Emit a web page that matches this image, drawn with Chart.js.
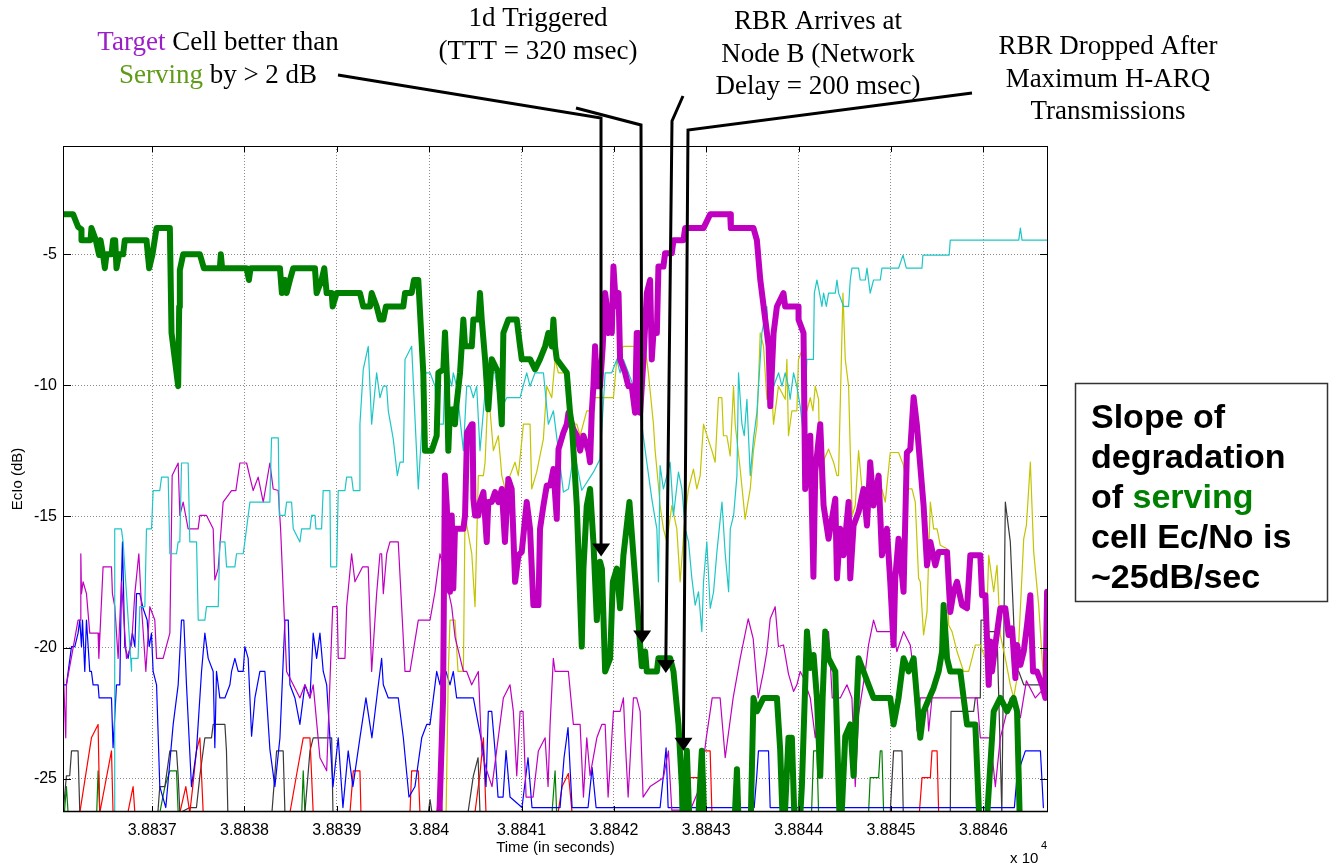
<!DOCTYPE html>
<html>
<head>
<meta charset="utf-8">
<script src="https://cdn.jsdelivr.net/npm/chart.js@4.4.0/dist/chart.umd.min.js"></script>
<style>
  html, body { margin: 0; padding: 0; background: #fff; }
  #wrap { position: relative; width: 1341px; height: 867px; }
</style>
</head>
<body>
<div id="wrap"><canvas id="c" width="1341" height="867"></canvas></div>
<script>
// time axis is in seconds, stored as offset from T0 (axis labels show (T0+t)/1e4, "x 10^4")
const T0 = 38836;
const xTicks = [1, 2, 3, 4, 5, 6, 7, 8, 9, 10];
const yTicks = [-25, -20, -15, -10, -5];

// ── serving cell (thick green) ──
const servingCell = [[0.036,-3.47],[0.144,-3.47],[0.198,-3.95],[0.235,-4.05],[0.235,-4.46],[0.333,-4.46],[0.343,-4.0],[0.39,-4.46],[0.426,-5.03],[0.441,-4.46],[0.469,-5.03],[0.488,-5.53],[0.506,-5.0],[0.56,-5.0],[0.577,-4.46],[0.6,-4.46],[0.614,-5.53],[0.642,-5.0],[0.686,-5.0],[0.704,-4.46],[0.939,-4.46],[0.968,-5.53],[1.004,-5.0],[1.048,-4.0],[1.192,-4.0],[1.21,-8.0],[1.282,-10.03],[1.293,-7.0],[1.30,-5.6],[1.336,-5.0],[1.517,-5.0],[1.56,-5.53],[1.733,-5.53],[1.744,-5.0],[1.758,-5.53],[2.023,-5.53],[2.048,-5.98],[2.066,-5.53],[2.384,-5.53],[2.405,-6.48],[2.438,-5.98],[2.456,-6.48],[2.492,-5.98],[2.528,-5.53],[2.763,-5.53],[2.781,-6.48],[2.835,-5.98],[2.864,-5.53],[2.89,-6.48],[2.944,-6.48],[2.955,-6.99],[2.998,-6.48],[3.25,-6.48],[3.286,-6.99],[3.359,-6.99],[3.377,-6.48],[3.431,-6.99],[3.467,-7.49],[3.503,-7.49],[3.532,-6.99],[3.72,-6.99],[3.738,-6.48],[3.81,-6.48],[3.835,-5.98],[3.882,-5.98],[3.936,-9.52],[3.954,-12.49],[4.027,-12.49],[4.081,-11.92],[4.099,-9.52],[4.153,-9.39],[4.171,-7.98],[4.19,-9.52],[4.207,-12.49],[4.225,-10.91],[4.244,-11.17],[4.261,-10.91],[4.279,-11.48],[4.29,-10.91],[4.334,-9.52],[4.37,-7.49],[4.388,-8.51],[4.461,-8.51],[4.478,-7.49],[4.532,-7.49],[4.55,-6.48],[4.569,-7.49],[4.605,-9.0],[4.64,-10.91],[4.677,-9.0],[4.749,-9.52],[4.786,-11.48],[4.803,-8.0],[4.857,-7.49],[4.948,-7.49],[4.984,-8.51],[5.002,-9.0],[5.092,-9.0],[5.146,-9.39],[5.2,-9.0],[5.255,-8.51],[5.29,-8.0],[5.327,-8.51],[5.345,-7.49],[5.363,-8.51],[5.381,-9.0],[5.49,-9.52],[5.525,-11.04],[5.544,-11.48],[5.561,-12.43],[5.598,-14.58],[5.652,-19.96],[5.67,-16.99],[5.706,-14.58],[5.742,-13.95],[5.778,-15.97],[5.815,-18.95],[5.85,-16.73],[5.87,-16.99],[5.905,-20.91],[5.959,-20.41],[5.988,-17.49],[6.031,-16.99],[6.067,-18.5],[6.103,-16.48],[6.168,-14.45],[6.211,-16.48],[6.284,-19.9],[6.302,-20.71],[6.338,-20.15],[6.356,-20.91],[6.465,-20.91],[6.482,-20.41],[6.609,-20.41],[6.645,-20.91],[6.699,-22.93],[6.736,-25.3],[6.75,-27.5],[6.79,-23.93],[6.826,-27.5],[6.898,-27.5],[6.952,-23.93],[6.988,-27.5],[7.295,-27.5],[7.332,-24.64],[7.357,-27.5],[7.476,-27.5],[7.511,-21.92],[7.548,-22.43],[7.62,-21.92],[7.765,-21.92],[7.8,-23.88],[7.836,-27.5],[7.89,-23.44],[7.927,-23.44],[7.963,-27.5],[8.0,-27.5],[8.035,-25.3],[8.09,-19.39],[8.126,-20.78],[8.162,-20.28],[8.198,-21.92],[8.234,-24.89],[8.26,-21.92],[8.288,-19.39],[8.324,-20.41],[8.397,-20.91],[8.451,-27.5],[8.505,-23.38],[8.559,-22.93],[8.595,-24.89],[8.649,-20.41],[8.703,-20.91],[8.757,-21.42],[8.811,-21.92],[8.992,-21.92],[9.028,-22.93],[9.082,-21.92],[9.136,-20.41],[9.191,-20.91],[9.245,-20.41],[9.317,-23.44],[9.353,-22.43],[9.461,-21.54],[9.516,-20.91],[9.553,-20.15],[9.57,-18.38],[9.607,-20.41],[9.642,-20.91],[9.75,-20.91],[9.823,-22.93],[9.913,-22.93],[9.967,-27.5],[10.022,-27.5],[10.112,-22.43],[10.184,-21.92],[10.257,-22.43],[10.328,-21.92],[10.365,-22.43],[10.401,-27.5]];

// ── target cell (thick magenta) ──
const targetCell = [[4.10,-27.5],[4.15,-22.0],[4.17,-13.44],[4.19,-14.58],[4.225,-17.87],[4.244,-14.96],[4.261,-17.74],[4.279,-15.47],[4.37,-15.47],[4.388,-14.96],[4.41,-11.8],[4.461,-11.48],[4.47,-11.48],[4.478,-14.32],[4.497,-14.96],[4.532,-14.96],[4.55,-14.45],[4.587,-14.07],[4.623,-15.97],[4.64,-14.45],[4.677,-14.45],[4.713,-14.07],[4.749,-14.45],[4.786,-13.95],[4.82,-15.97],[4.857,-13.57],[4.893,-13.95],[4.93,-17.49],[4.966,-16.48],[5.002,-16.35],[5.02,-15.72],[5.056,-14.45],[5.092,-15.47],[5.128,-18.38],[5.183,-18.38],[5.2,-15.47],[5.237,-14.58],[5.273,-13.82],[5.31,-13.82],[5.345,-13.19],[5.381,-15.09],[5.40,-12.43],[5.453,-11.8],[5.49,-11.48],[5.508,-11.04],[5.561,-11.67],[5.598,-11.92],[5.634,-12.49],[5.67,-11.92],[5.724,-12.49],[5.742,-12.93],[5.76,-11.04],[5.778,-10.03],[5.796,-8.51],[5.815,-10.03],[5.85,-10.03],[5.879,-8.51],[5.905,-6.48],[5.923,-6.99],[5.941,-8.0],[5.959,-7.49],[5.977,-8.0],[5.995,-5.47],[6.013,-6.48],[6.031,-6.99],[6.05,-6.48],[6.067,-9.01],[6.121,-9.52],[6.157,-10.03],[6.193,-10.03],[6.229,-11.04],[6.247,-8.0],[6.265,-8.0],[6.284,-11.04],[6.32,-9.01],[6.356,-6.48],[6.392,-5.98],[6.41,-9.01],[6.428,-8.0],[6.465,-8.0],[6.482,-5.47],[6.536,-5.47],[6.554,-4.96],[6.627,-4.96],[6.645,-4.46],[6.753,-4.46],[6.771,-4.0],[6.97,-4.0],[7.043,-3.47],[7.259,-3.47],[7.266,-4.0],[7.511,-4.0],[7.548,-4.46],[7.585,-5.98],[7.675,-8.51],[7.693,-10.79],[7.729,-8.0],[7.765,-6.99],[7.836,-6.48],[7.854,-6.99],[7.999,-6.99],[7.999,-7.49],[8.053,-8.0],[8.071,-13.95],[8.126,-11.92],[8.16,-17.3],[8.18,-13.3],[8.234,-11.48],[8.27,-14.58],[8.324,-15.85],[8.397,-14.32],[8.415,-17.36],[8.451,-15.47],[8.487,-16.48],[8.541,-14.45],[8.559,-17.36],[8.595,-15.34],[8.649,-14.83],[8.703,-13.95],[8.74,-15.34],[8.775,-12.93],[8.811,-14.58],[8.866,-13.44],[8.902,-16.48],[8.956,-15.47],[8.992,-17.49],[9.028,-19.9],[9.046,-17.36],[9.082,-15.85],[9.136,-17.87],[9.172,-12.56],[9.209,-12.43],[9.245,-10.45],[9.28,-11.5],[9.353,-14.58],[9.39,-16.86],[9.426,-15.97],[9.48,-16.86],[9.516,-16.35],[9.607,-16.35],[9.642,-18.64],[9.678,-17.87],[9.715,-17.49],[9.769,-18.38],[9.823,-18.5],[9.859,-16.48],[9.967,-16.48],[9.986,-18.0],[10.022,-18.0],[10.058,-21.42],[10.076,-19.77],[10.094,-20.91],[10.13,-19.9],[10.184,-18.5],[10.238,-18.5],[10.274,-19.52],[10.311,-19.27],[10.347,-21.16],[10.365,-19.9],[10.401,-20.66],[10.437,-20.15],[10.473,-19.14],[10.509,-18.0],[10.538,-20.91],[10.581,-20.91],[10.636,-21.42],[10.672,-21.92],[10.69,-17.87]];

// ── neighbour cells (thin) ──
const cyanCell = [[0.59,-27.5],[0.595,-15.47],[0.667,-15.47],[0.686,-15.97],[0.777,-20.9],[0.777,-20.41],[0.848,-20.41],[0.867,-18.44],[0.921,-18.44],[0.939,-15.47],[0.994,-15.47],[1.011,-14.01],[1.083,-14.01],[1.102,-13.5],[1.174,-13.5],[1.192,-16.42],[1.264,-16.42],[1.282,-15.97],[1.30,-15.97],[1.318,-12.96],[1.39,-12.96],[1.408,-15.97],[1.481,-15.97],[1.499,-18.95],[1.571,-18.95],[1.589,-18.44],[1.716,-18.44],[1.733,-15.97],[1.788,-15.97],[1.806,-16.92],[1.896,-16.92],[1.914,-16.42],[1.986,-16.42],[2.004,-15.97],[2.059,-14.45],[2.275,-14.45],[2.293,-12.0],[2.366,-12.0],[2.377,-14.96],[2.438,-14.96],[2.456,-14.45],[2.51,-14.45],[2.528,-15.47],[2.6,-15.97],[2.619,-15.47],[2.709,-15.47],[2.727,-14.96],[2.763,-14.96],[2.774,-15.47],[2.835,-15.47],[2.852,-14.01],[2.925,-14.01],[2.933,-16.92],[2.998,-16.92],[3.015,-14.01],[3.088,-14.01],[3.106,-13.5],[3.16,-13.5],[3.178,-14.01],[3.25,-14.01],[3.25,-11.48],[3.286,-9.39],[3.34,-8.51],[3.377,-11.48],[3.431,-9.52],[3.467,-10.47],[3.503,-10.03],[3.539,-10.03],[3.557,-10.97],[3.611,-12.05],[3.655,-13.44],[3.684,-12.93],[3.72,-12.93],[3.738,-9.01],[3.81,-8.51],[3.882,-13.95],[3.954,-9.52],[4.009,-9.52],[4.063,-10.03],[4.081,-11.48],[4.153,-11.48],[4.171,-9.52],[4.207,-9.52],[4.244,-10.03],[4.261,-9.52],[4.297,-10.03],[4.37,-12.49],[4.406,-10.03],[4.442,-10.03],[4.478,-10.47],[4.514,-10.03],[4.55,-12.49],[4.623,-9.52],[4.713,-9.52],[4.767,-10.97],[4.84,-10.47],[4.984,-10.47],[5.056,-9.52],[5.092,-10.03],[5.146,-9.52],[5.237,-9.52],[5.29,-11.48],[5.345,-10.97],[5.399,-12.49],[5.453,-14.07],[5.508,-13.95],[5.57,-12.5],[5.652,-14.0],[5.778,-13.31],[5.85,-12.81],[5.905,-9.52],[5.977,-9.52],[6.031,-9.01],[6.067,-9.52],[6.103,-9.01],[6.157,-9.52],[6.211,-10.03],[6.284,-11.04],[6.356,-12.93],[6.41,-14.32],[6.428,-14.71],[6.465,-15.47],[6.482,-17.49],[6.5,-13.06],[6.536,-13.95],[6.573,-13.44],[6.609,-12.93],[6.645,-14.96],[6.699,-13.31],[6.736,-13.95],[6.772,-15.47],[6.808,-15.97],[6.844,-17.36],[6.88,-18.38],[6.916,-17.87],[6.952,-19.39],[6.97,-17.49],[7.006,-15.97],[7.043,-18.5],[7.079,-17.87],[7.115,-16.35],[7.17,-14.45],[7.205,-16.42],[7.242,-17.87],[7.26,-15.47],[7.296,-14.96],[7.332,-13.44],[7.349,-9.52],[7.386,-11.48],[7.411,-11.92],[7.44,-10.53],[7.476,-13.44],[7.511,-12.05],[7.548,-11.04],[7.602,-8.0],[7.656,-6.99],[7.675,-8.51],[7.71,-9.52],[7.729,-10.03],[7.783,-9.52],[7.82,-10.03],[7.854,-9.52],[7.89,-10.03],[7.908,-10.53],[7.945,-9.52],[7.98,-10.03],[8.017,-10.79],[8.053,-11.92],[8.09,-9.01],[8.16,-9.01],[8.17,-6.48],[8.198,-5.98],[8.226,-6.48],[8.252,-6.99],[8.27,-6.48],[8.3,-6.99],[8.324,-6.48],[8.397,-6.48],[8.415,-5.98],[8.433,-6.48],[8.487,-6.99],[8.541,-6.99],[8.559,-5.98],[8.577,-5.53],[8.649,-5.53],[8.667,-5.98],[8.722,-5.98],[8.74,-5.53],[8.775,-6.48],[8.811,-5.98],[8.884,-5.98],[8.902,-5.53],[9.082,-5.53],[9.13,-5.03],[9.166,-5.53],[9.335,-5.53],[9.346,-5.03],[9.63,-5.03],[9.642,-4.46],[10.383,-4.46],[10.401,-4.0],[10.419,-4.46],[10.70,-4.46]];

const magentaCell = [[0.036,-20.66],[0.065,-23.44],[0.072,-21.42],[0.144,-20.02],[0.198,-18.95],[0.224,-18.95],[0.228,-16.42],[0.235,-17.94],[0.252,-17.49],[0.289,-17.94],[0.325,-19.45],[0.415,-19.45],[0.423,-20.41],[0.469,-16.92],[0.56,-16.92],[0.57,-17.94],[0.596,-18.44],[0.632,-20.41],[0.668,-17.49],[0.722,-20.41],[0.777,-19.9],[0.813,-17.94],[0.856,-16.42],[0.885,-18.44],[0.932,-20.91],[0.975,-18.44],[1.029,-18.95],[1.048,-20.41],[1.119,-20.41],[1.192,-19.45],[1.217,-13.44],[1.282,-12.96],[1.30,-14.96],[1.336,-14.45],[1.39,-15.47],[1.498,-15.47],[1.517,-14.96],[1.589,-14.96],[1.661,-15.47],[1.679,-17.42],[1.715,-16.99],[1.769,-14.45],[1.86,-14.01],[1.907,-14.01],[1.95,-12.96],[2.023,-12.96],[2.059,-13.5],[2.094,-14.01],[2.148,-13.5],[2.203,-14.45],[2.275,-12.96],[2.311,-13.95],[2.365,-14.01],[2.391,-15.47],[2.456,-20.91],[2.528,-21.42],[2.6,-21.92],[2.654,-21.42],[2.709,-21.92],[2.744,-21.42],[2.817,-24.2],[2.89,-24.7],[2.955,-18.44],[3.004,-18.44],[3.015,-20.41],[3.088,-20.41],[3.106,-18.44],[3.16,-16.42],[3.196,-17.49],[3.279,-16.92],[3.34,-16.92],[3.377,-20.91],[3.431,-17.94],[3.467,-16.42],[3.485,-16.42],[3.503,-17.94],[3.54,-16.42],[3.575,-15.97],[3.665,-15.97],[3.738,-20.91],[3.792,-20.91],[3.882,-18.95],[4.009,-18.95],[4.063,-17.87],[4.117,-16.42],[4.18,-17.4],[4.244,-18.44],[4.28,-19.6],[4.37,-20.91],[4.406,-20.91],[4.46,-21.42],[4.532,-20.91],[4.569,-23.94],[4.615,-24.6],[4.68,-25.3],[4.803,-21.92],[4.875,-21.42],[4.911,-22.43],[4.948,-24.89],[4.984,-22.43],[5.016,-22.43],[5.049,-25.7],[5.125,-25.7],[5.182,-23.94],[5.255,-23.44],[5.287,-25.3],[5.309,-22.93],[5.344,-20.41],[5.363,-20.91],[5.507,-20.91],[5.561,-22.93],[5.634,-22.93],[5.67,-25.7],[5.706,-23.44],[5.742,-24.88],[5.815,-23.44],[5.869,-22.93],[5.905,-22.93],[5.937,-25.7],[5.995,-22.43],[6.067,-22.43],[6.103,-21.92],[6.121,-23.44],[6.154,-25.7],[6.211,-21.92],[6.247,-21.92],[6.284,-22.43],[6.316,-25.7],[6.392,-25.3],[6.536,-24.96],[6.59,-23.94],[6.627,-26.2],[6.826,-26.2],[6.934,-25.3],[7.0,-23.44],[7.064,-21.92],[7.15,-21.92],[7.205,-24.2],[7.291,-21.92],[7.367,-20.41],[7.454,-18.9],[7.508,-19.66],[7.562,-21.92],[7.62,-20.91],[7.656,-20.15],[7.692,-18.9],[7.746,-18.44],[7.782,-19.96],[7.836,-19.9],[7.89,-21.0],[7.945,-21.67],[7.981,-21.42],[8.017,-20.91],[8.053,-21.16],[8.126,-21.92],[8.18,-23.44],[8.234,-21.92],[8.324,-19.39],[8.364,-21.92],[8.451,-21.92],[8.523,-21.42],[8.577,-21.92],[8.613,-25.3],[8.649,-22.55],[8.722,-20.91],[8.757,-19.9],[8.811,-18.95],[8.848,-19.39],[9.028,-19.39],[9.064,-20.15],[9.136,-19.39],[9.209,-19.9],[9.245,-20.91],[9.282,-23.18],[9.317,-21.92],[9.39,-21.92],[9.408,-23.18],[9.444,-21.92],[9.932,-21.92],[9.967,-23.44],[10.076,-23.44],[10.13,-25.3],[10.184,-23.44],[10.292,-21.92],[10.401,-22.67],[10.466,-21.27],[10.563,-21.92],[10.69,-21.42]];

const blueCell = [[0.036,-21.42],[0.072,-21.42],[0.127,-19.96],[0.163,-19.96],[0.198,-19.45],[0.217,-18.95],[0.235,-19.96],[0.246,-18.95],[0.271,-20.91],[0.289,-18.95],[0.325,-20.91],[0.343,-20.91],[0.361,-21.42],[0.415,-21.42],[0.426,-21.92],[0.56,-21.92],[0.577,-23.82],[0.614,-21.42],[0.65,-21.42],[0.668,-17.49],[0.679,-15.97],[0.704,-19.96],[0.74,-20.41],[0.787,-19.45],[0.813,-19.96],[0.831,-17.94],[0.867,-17.94],[0.902,-18.5],[0.946,-18.95],[0.968,-19.96],[0.993,-19.45],[1.011,-20.91],[1.048,-21.42],[1.083,-25.3],[1.148,-26.1],[1.228,-22.93],[1.282,-21.42],[1.318,-18.95],[1.343,-18.95],[1.372,-21.42],[1.426,-25.3],[1.48,-23.94],[1.535,-20.91],[1.571,-19.45],[1.607,-20.41],[1.661,-20.91],[1.679,-23.82],[1.697,-20.91],[1.733,-21.92],[1.788,-21.92],[1.842,-21.42],[1.86,-20.91],[1.896,-20.41],[1.932,-20.91],[1.986,-20.91],[2.004,-19.96],[2.04,-20.41],[2.077,-23.38],[2.113,-21.92],[2.167,-20.91],[2.221,-20.91],[2.275,-23.88],[2.329,-25.3],[2.384,-23.44],[2.438,-18.95],[2.474,-18.95],[2.492,-21.42],[2.546,-21.92],[2.6,-22.93],[2.654,-21.42],[2.709,-21.92],[2.744,-19.45],[2.781,-20.41],[2.817,-19.45],[2.853,-20.91],[2.89,-21.42],[2.925,-23.44],[2.958,-25.3],[3.015,-23.44],[3.066,-26.1],[3.123,-23.94],[3.174,-25.3],[3.25,-23.44],[3.315,-21.92],[3.38,-23.44],[3.445,-21.54],[3.485,-20.41],[3.503,-21.42],[3.557,-21.92],[3.665,-21.92],[3.72,-23.44],[3.781,-25.7],[3.846,-25.3],[3.919,-23.44],[3.973,-22.93],[4.009,-22.93],[4.063,-21.42],[4.081,-20.91],[4.117,-21.42],[4.135,-20.91],[4.182,-20.91],[4.225,-21.42],[4.261,-20.91],[4.297,-21.92],[4.478,-21.92],[4.532,-22.93],[4.587,-23.94],[4.615,-25.3],[4.64,-22.43],[4.677,-22.43],[4.713,-23.94],[4.745,-25.7],[4.8,-25.7],[4.832,-23.93],[4.875,-25.7],[5.005,-26.1],[5.07,-24.2],[5.113,-26.1],[5.417,-26.1],[5.46,-24.2],[5.503,-23.05],[5.547,-26.1],[5.72,-26.1],[5.764,-24.58],[5.807,-26.1],[6.5,-26.1],[6.544,-24.58],[6.565,-23.82],[6.587,-26.1],[7.519,-26.1],[7.548,-24.83],[7.565,-23.94],[7.674,-23.94],[7.692,-26.1],[10.336,-26.1],[10.365,-24.88],[10.455,-23.94],[10.618,-23.94],[10.65,-26.1]];

const yellowCell = [[4.18,-27.0],[4.207,-20.91],[4.225,-18.95],[4.279,-18.95],[4.312,-20.91],[4.37,-20.91],[4.388,-14.96],[4.461,-16.42],[4.496,-18.44],[4.532,-13.44],[4.587,-13.44],[4.605,-12.93],[4.64,-10.03],[4.659,-10.97],[4.695,-12.49],[4.749,-11.92],[4.786,-13.44],[4.822,-13.95],[4.875,-13.44],[4.929,-12.93],[4.965,-13.44],[5.02,-11.48],[5.092,-11.48],[5.11,-13.95],[5.164,-13.31],[5.236,-12.05],[5.273,-10.03],[5.327,-10.47],[5.363,-9.01],[5.399,-9.52],[5.49,-9.52],[5.507,-10.97],[5.544,-10.97],[5.561,-11.48],[5.598,-11.48],[5.634,-11.92],[5.706,-10.97],[5.742,-10.97],[5.778,-10.47],[5.995,-10.47],[6.031,-9.01],[6.103,-8.51],[6.338,-8.51],[6.373,-9.52],[6.428,-11.48],[6.446,-12.49],[6.482,-13.82],[6.5,-14.58],[6.536,-15.47],[6.573,-15.97],[6.627,-14.58],[6.681,-15.47],[6.717,-17.49],[6.771,-14.96],[6.807,-13.95],[6.861,-13.19],[6.898,-13.95],[6.934,-13.44],[6.97,-11.48],[7.02,-12.05],[7.061,-12.49],[7.096,-12.93],[7.132,-10.47],[7.169,-10.47],[7.186,-11.92],[7.223,-11.92],[7.259,-12.69],[7.295,-10.03],[7.313,-11.48],[7.367,-13.19],[7.421,-15.1],[7.476,-13.95],[7.511,-12.49],[7.548,-11.55],[7.584,-8.0],[7.62,-8.51],[7.656,-10.53],[7.692,-9.01],[7.728,-11.48],[7.782,-10.03],[7.855,-10.53],[7.873,-9.01],[7.89,-11.92],[7.927,-10.97],[7.981,-10.97],[7.998,-9.01],[8.053,-8.51],[8.09,-10.97],[8.126,-10.47],[8.155,-10.97],[8.18,-10.03],[8.216,-10.53],[8.234,-13.95],[8.277,-12.82],[8.324,-12.43],[8.378,-12.93],[8.415,-13.44],[8.432,-13.44],[8.48,-6.48],[8.505,-9.01],[8.541,-10.03],[8.559,-12.49],[8.581,-14.96],[8.613,-14.58],[8.649,-12.49],[8.686,-13.95],[8.722,-14.83],[8.757,-13.7],[8.794,-14.45],[8.83,-13.95],[8.866,-14.45],[8.902,-13.95],[8.938,-14.45],[8.956,-13.82],[8.992,-12.56],[9.082,-12.56],[9.136,-13.06],[9.173,-13.95],[9.227,-13.95],[9.263,-14.45],[9.299,-17.36],[9.317,-17.49],[9.353,-19.52],[9.39,-18.64],[9.426,-14.45],[9.462,-15.47],[9.499,-15.47],[9.534,-16.1],[9.607,-16.23],[9.624,-19.14],[9.661,-19.39],[9.715,-20.15],[9.786,-20.91],[9.841,-20.91],[9.877,-20.41],[9.913,-19.9],[9.967,-19.9],[10.022,-20.41],[10.058,-16.48],[10.112,-17.87],[10.148,-16.86],[10.184,-19.52],[10.238,-20.41],[10.292,-21.42],[10.328,-21.92],[10.365,-21.16],[10.437,-15.85],[10.466,-15.34],[10.491,-13.95],[10.509,-12.93],[10.545,-16.35],[10.599,-18.38],[10.653,-21.29],[10.69,-21.42]];

const redCell = [[0.217,-26.3],[0.343,-23.44],[0.415,-22.93],[0.433,-26.3],[0.487,-25.3],[0.56,-23.94],[0.577,-26.3],[0.737,-26.3],[0.794,-25.3],[0.813,-26.3],[1.30,-26.3],[1.365,-25.3],[1.408,-26.3],[1.44,-25.3],[1.48,-23.94],[1.517,-23.44],[1.553,-26.3],[2.492,-26.3],[2.565,-24.83],[2.636,-23.44],[2.709,-23.44],[2.744,-26.3],[3.142,-26.3],[3.178,-24.7],[3.25,-24.7],[3.261,-26.3],[3.792,-26.3],[3.81,-24.7],[3.882,-24.7],[3.9,-26.3],[4.085,-26.3],[4.117,-24.83],[4.138,-26.3],[4.495,-26.3],[4.55,-24.8],[4.587,-23.44],[4.615,-26.3],[5.395,-26.3],[5.439,-25.3],[5.507,-24.8],[5.547,-26.3],[6.76,-26.3],[6.771,-24.96],[6.952,-24.96],[6.97,-23.94],[7.042,-23.94],[7.061,-26.3],[9.307,-26.3],[9.336,-24.96],[9.426,-24.96],[9.444,-23.94],[9.499,-23.94],[9.516,-26.3]];

const grayCell = [[0.036,-26.3],[0.072,-24.89],[0.108,-24.88],[0.127,-23.94],[0.198,-23.94],[0.217,-26.3],[1.062,-26.3],[1.083,-25.3],[1.138,-25.3],[1.192,-23.94],[1.264,-23.94],[1.282,-24.89],[1.30,-26.3],[1.408,-26.1],[1.48,-26.1],[1.517,-24.89],[1.571,-23.44],[1.643,-23.44],[1.661,-22.93],[1.788,-22.93],[1.805,-23.94],[1.82,-26.3],[2.297,-26.3],[2.348,-23.94],[2.419,-23.94],[2.438,-26.3],[2.654,-26.3],[2.709,-23.94],[2.744,-23.44],[2.944,-23.44],[2.958,-26.3],[3.99,-26.3],[4.009,-25.8],[4.03,-26.3],[4.42,-26.3],[4.478,-24.89],[4.529,-24.2],[4.55,-26.3],[8.992,-26.3],[9.028,-23.94],[9.119,-23.94],[9.133,-26.3],[9.642,-26.3],[9.65,-22.43],[9.895,-22.43],[9.913,-21.92],[9.967,-21.92],[9.975,-18.95],[10.022,-18.95],[10.04,-19.39],[10.148,-19.39],[10.2,-26.3],[10.238,-14.45],[10.274,-15.47],[10.292,-15.97],[10.328,-18.95],[10.347,-20.91],[10.383,-20.91],[10.437,-21.42],[10.654,-21.42],[10.672,-18.44],[10.70,-18.44]];

const dkGreenCell = [[0.05,-26.3],[0.072,-25.3],[0.09,-26.3],[0.40,-26.3],[0.415,-24.7],[0.433,-26.3],[1.083,-26.3],[1.138,-25.3],[1.192,-24.7],[1.264,-24.7],[1.282,-26.3],[2.62,-26.3],[2.636,-24.7],[2.654,-26.3],[5.33,-26.3],[5.363,-24.7],[5.38,-26.3],[8.14,-26.3],[8.162,-23.94],[8.198,-23.94],[8.216,-26.3],[8.757,-26.3],[8.775,-24.96],[8.866,-24.96],[8.884,-23.94],[8.902,-23.94],[8.92,-26.3]];

// ── annotations (tip given in data units; text/elbow positions are page layout) ──
const PURPLE_TXT = "#9B1FC9";
const OLIVE_TXT = "#5E9C17";
const callouts = [
  { lines: [[["Target", PURPLE_TXT], [" Cell better than", "#000"]], [["Serving", OLIVE_TXT], [" by > 2 dB", "#000"]]],
    cx: 218, y0: 43, lead: [[338, 75], [601, 118]], tip: [5.861, -16.53] },
  { lines: [[["1d Triggered", "#000"]], [["(TTT = 320 msec)", "#000"]]],
    cx: 538, y0: 19, lead: [[576, 108], [641, 125]], tip: [6.306, -19.84] },
  { lines: [[["RBR Arrives at", "#000"]], [["Node B (Network", "#000"]], [["Delay = 200 msec)", "#000"]]],
    cx: 818, y0: 22, lead: [[683, 96], [672, 121]], tip: [6.562, -20.97] },
  { lines: [[["RBR Dropped After", "#000"]], [["Maximum H-ARQ", "#000"]], [["Transmissions", "#000"]]],
    cx: 1108, y0: 47, lead: [[972, 93], [688, 130]], tip: [6.753, -23.93] },
];

const SANS = "'Liberation Sans', Arial, sans-serif";
const SERIF = "'Liberation Serif', 'Times New Roman', serif";

function pts(arr) { return arr.map(p => ({ x: p[0], y: p[1] })); }
function series(label, arr, color, width) {
  return {
    label, data: pts(arr), borderColor: color, borderWidth: width,
    pointRadius: 0, tension: 0, fill: false, clip: 0,
    borderJoinStyle: "round", borderCapStyle: "round",
  };
}

const overlay = {
  id: "overlay",
  afterDraw(chart) {
    const { ctx, chartArea: a, scales: { x, y } } = chart;
    ctx.save();

    // plot box + inward ticks (matlab style)
    ctx.strokeStyle = "#000";
    ctx.lineWidth = 1;
    ctx.strokeRect(a.left + 0.5, a.top + 0.5, a.right - a.left - 1, a.bottom - a.top - 1);
    ctx.lineWidth = 1.5;
    ctx.beginPath();
    ctx.moveTo(a.left, a.bottom - 0.5); ctx.lineTo(a.right, a.bottom - 0.5);
    ctx.stroke();
    ctx.lineWidth = 1;
    ctx.beginPath();
    xTicks.forEach(v => {
      const px = Math.round(x.getPixelForValue(v)) + 0.5;
      ctx.moveTo(px, a.top); ctx.lineTo(px, a.top + 6);
      ctx.moveTo(px, a.bottom); ctx.lineTo(px, a.bottom - 6);
    });
    yTicks.forEach(v => {
      const py = Math.round(y.getPixelForValue(v)) + 0.5;
      ctx.moveTo(a.left, py); ctx.lineTo(a.left + 8, py);
      ctx.moveTo(a.right, py); ctx.lineTo(a.right - 8, py);
    });
    ctx.stroke();

    // axis titles
    ctx.fillStyle = "#000";
    ctx.font = "15px " + SANS;
    ctx.textAlign = "center";
    ctx.textBaseline = "middle";
    ctx.fillText("Time (in seconds)", (a.left + a.right) / 2, 848);
    ctx.save();
    ctx.translate(18, (a.top + a.bottom) / 2);
    ctx.rotate(-Math.PI / 2);
    ctx.fillText("EcIo (dB)", 0, 0);
    ctx.restore();
    ctx.textAlign = "left";
    ctx.textBaseline = "alphabetic";
    ctx.fillText("x 10", 1010, 863);
    ctx.font = "11px " + SANS;
    ctx.fillText("4", 1041, 849);

    // callout texts
    ctx.font = "27px " + SERIF;
    ctx.textBaseline = "middle";
    callouts.forEach(c => {
      c.lines.forEach((segs, i) => {
        const total = segs.reduce((s, g) => s + ctx.measureText(g[0]).width, 0);
        let tx = c.cx - total / 2;
        const ty = c.y0 + i * 32.5;
        segs.forEach(g => {
          ctx.fillStyle = g[1];
          ctx.fillText(g[0], tx, ty);
          tx += ctx.measureText(g[0]).width;
        });
      });
    });

    // leader lines + arrows
    ctx.strokeStyle = "#000";
    ctx.fillStyle = "#000";
    ctx.lineWidth = 3;
    ctx.lineJoin = "miter";
    callouts.forEach(c => {
      const tx = x.getPixelForValue(c.tip[0]);
      const ty = y.getPixelForValue(c.tip[1]);
      const head = 13;
      ctx.beginPath();
      ctx.moveTo(c.lead[0][0], c.lead[0][1]);
      ctx.lineTo(c.lead[1][0], c.lead[1][1]);
      ctx.lineTo(tx, ty - head + 1);
      ctx.stroke();
      ctx.beginPath();
      ctx.moveTo(tx, ty);
      ctx.lineTo(tx - 9, ty - head);
      ctx.lineTo(tx + 9, ty - head);
      ctx.closePath();
      ctx.fill();
    });

    // side note box
    ctx.lineWidth = 1.5;
    ctx.strokeStyle = "#333";
    ctx.strokeRect(1075.5, 383.5, 252, 218);
    ctx.font = "bold 34px " + SANS;
    ctx.textBaseline = "alphabetic";
    const note = [
      [["Slope of", "#000"]],
      [["degradation", "#000"]],
      [["of ", "#000"], ["serving", "#008000"]],
      [["cell Ec/No is", "#000"]],
      [["~25dB/sec", "#000"]],
    ];
    note.forEach((segs, i) => {
      let tx = 1091;
      segs.forEach(g => {
        ctx.fillStyle = g[1];
        ctx.fillText(g[0], tx, 428 + i * 40);
        tx += ctx.measureText(g[0]).width;
      });
    });

    ctx.restore();
  }
};

const tickFont = { family: SANS, size: 16 };

new Chart(document.getElementById("c"), {
  type: "line",
  data: {
    datasets: [
      series("Serving", servingCell, "#008000", 6),
      series("Target", targetCell, "#C000C0", 6),
      series("N1", cyanCell, "#1FC6C6", 1.2),
      series("N2", magentaCell, "#C000C0", 1.2),
      series("N3", yellowCell, "#C4C400", 1.2),
      series("N4", blueCell, "#0000FF", 1.2),
      series("N5", redCell, "#FF0000", 1.2),
      series("N6", grayCell, "#3A3A3A", 1.2),
      series("N7", dkGreenCell, "#008000", 1.2),
    ]
  },
  options: {
    responsive: false,
    animation: false,
    devicePixelRatio: 1,
    layout: { padding: { left: 0, right: 293, top: 146, bottom: 0 } },
    plugins: { legend: { display: false }, tooltip: { enabled: false } },
    scales: {
      x: {
        type: "linear",
        min: 0.035, max: 10.70,
        afterBuildTicks: s => { s.ticks = xTicks.map(v => ({ value: v })); },
        afterFit: s => { s.height = 55; },
        ticks: {
          font: tickFont, color: "#000", padding: 9, maxRotation: 0, autoSkip: false,
          callback: v => String(+((T0 + v) / 1e4).toFixed(4)),
        },
        grid: { color: "#8a8a8a", lineWidth: 1, drawTicks: false },
        border: { display: false, dash: [1, 2] },
      },
      y: {
        type: "linear",
        min: -26.27, max: -0.87,
        afterBuildTicks: s => { s.ticks = yTicks.map(v => ({ value: v })); },
        afterFit: s => { s.width = 63; },
        ticks: { font: tickFont, color: "#000", padding: 6, callback: v => String(v) },
        grid: { color: "#8a8a8a", lineWidth: 1, drawTicks: false },
        border: { display: false, dash: [1, 2] },
      }
    }
  },
  plugins: [overlay]
});
</script>
</body>
</html>
